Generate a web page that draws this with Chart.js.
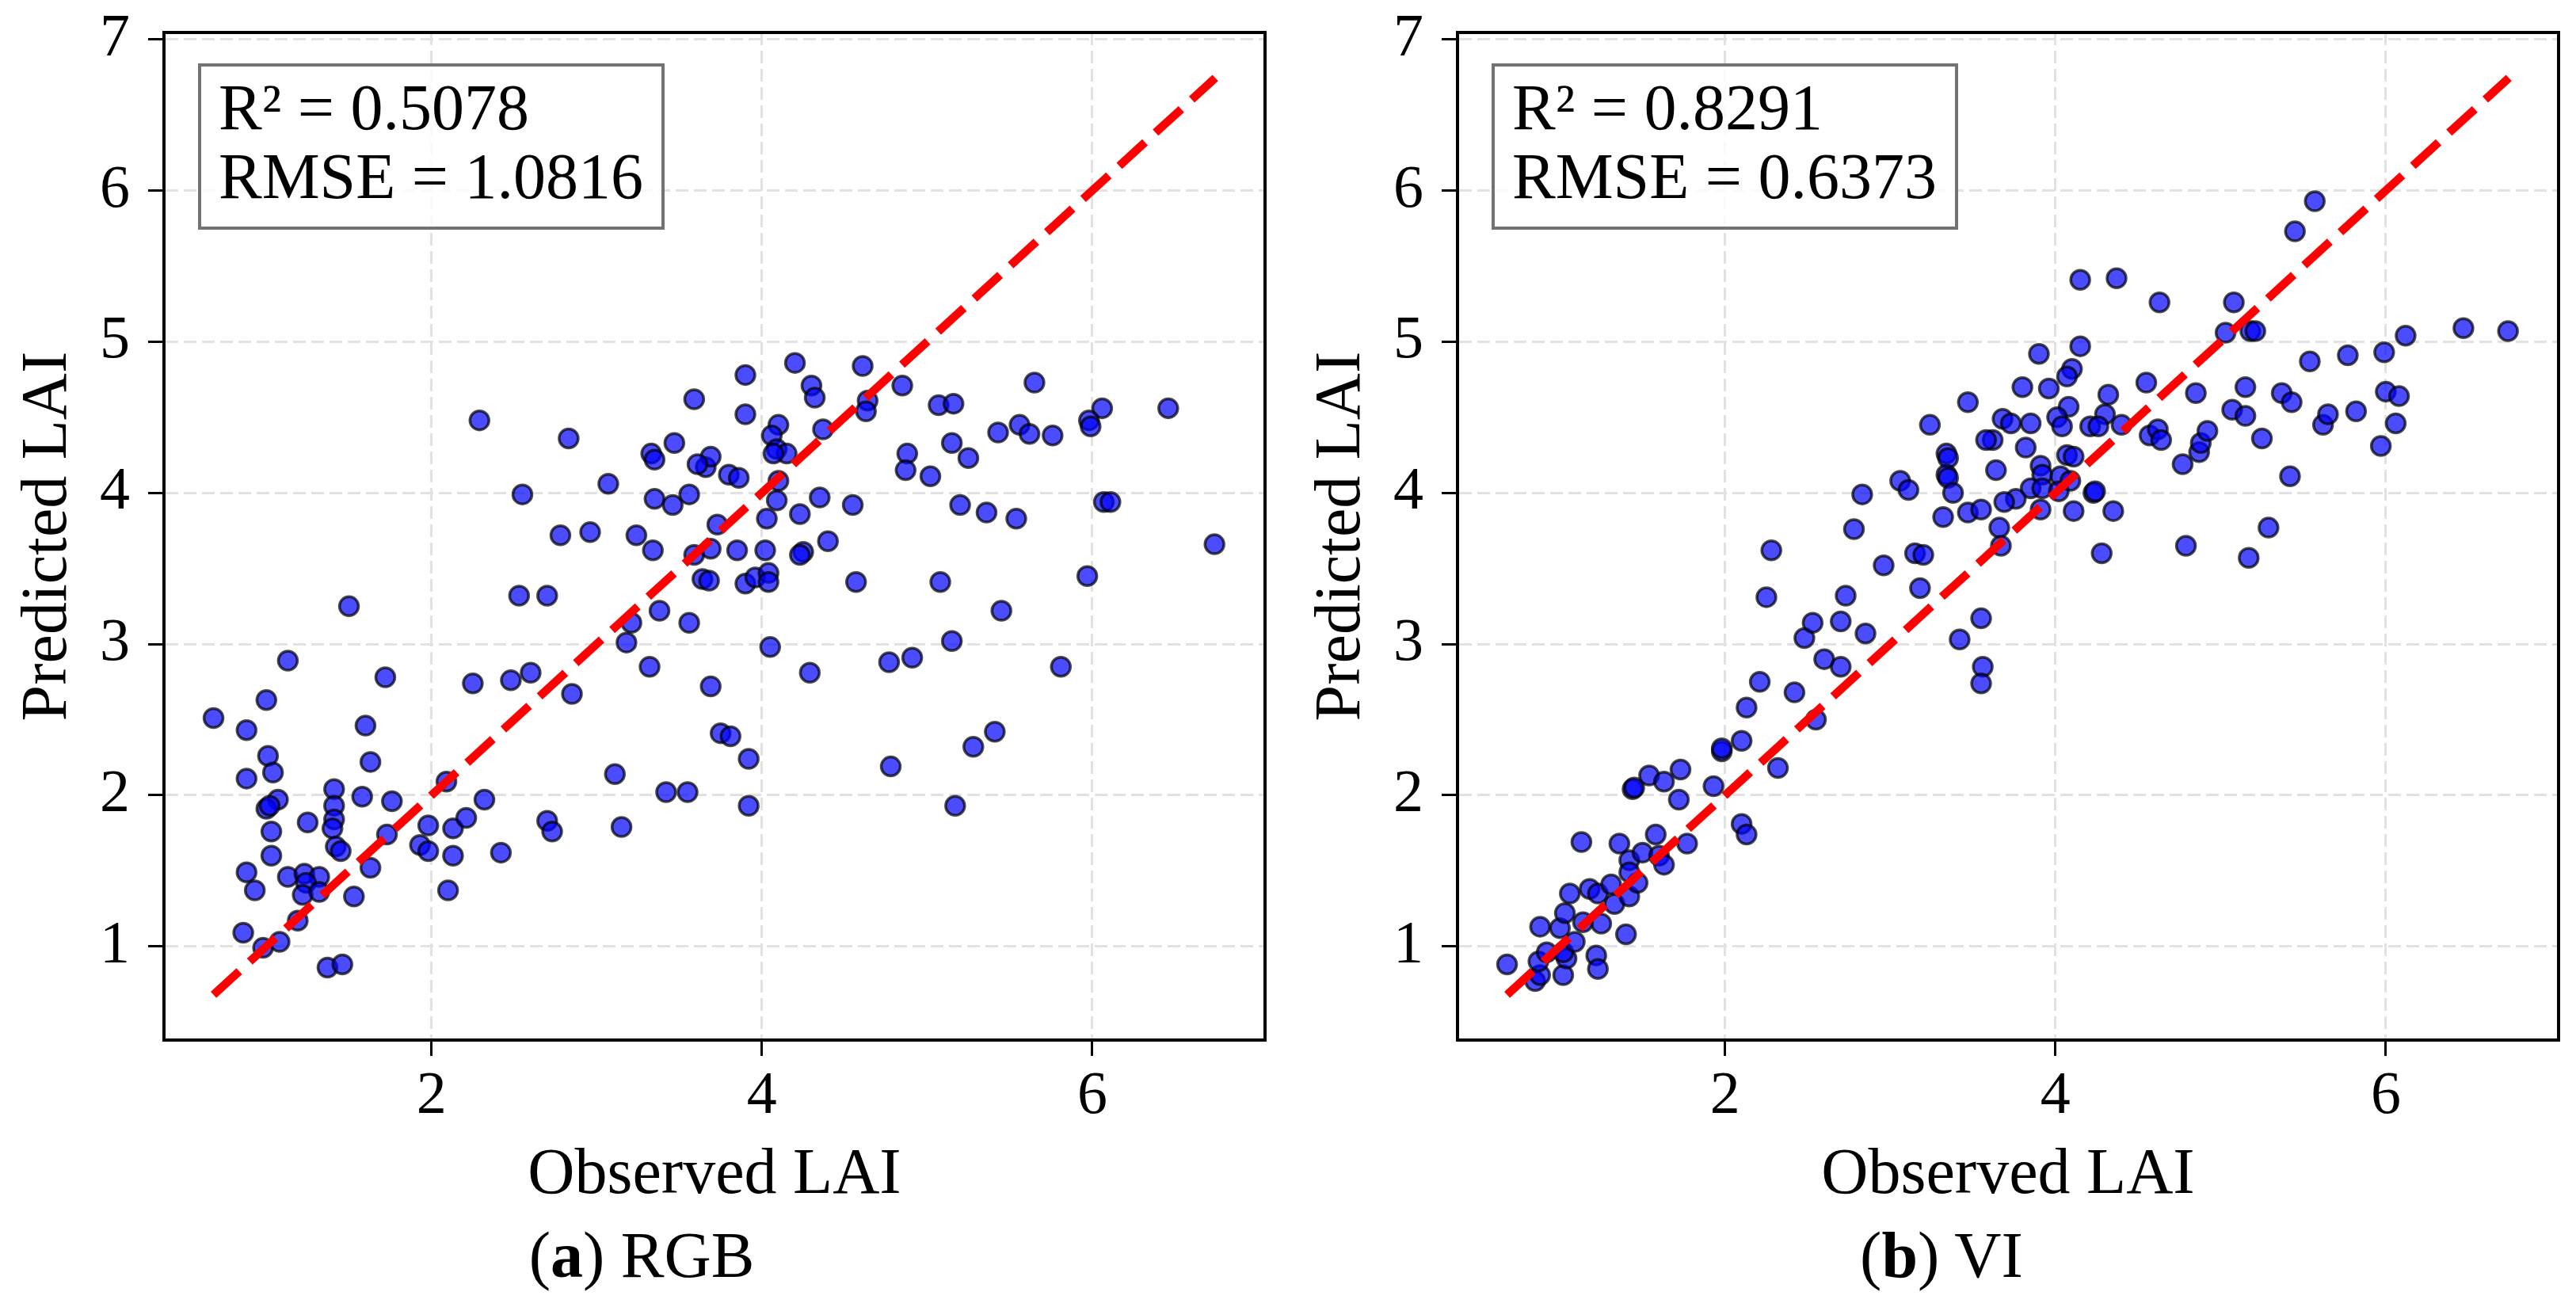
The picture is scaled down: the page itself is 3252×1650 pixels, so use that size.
<!DOCTYPE html>
<html>
<head>
<meta charset="utf-8">
<script src="https://cdn.jsdelivr.net/npm/chart.js@4.4.1/dist/chart.umd.min.js"></script>
<style>
  html, body { margin:0; padding:0; background:#fff; width:3252px; height:1650px; overflow:hidden; }
  .panel { position:absolute; top:0; width:1619px; height:1650px; }
  canvas { display:block; }
  .stats { position:absolute; box-sizing:border-box; width:589px; height:210px; top:80px;
           border:4px solid rgba(90,90,90,0.85); background:rgba(255,255,255,0.82);
           font-family:'Liberation Serif','Times New Roman',serif; font-size:82px; line-height:87px;
           padding:8px 0 0 22px; color:#000; white-space:nowrap; }
  .caption { position:absolute; top:1535px; width:600px; text-align:center;
             font-family:'Liberation Serif','Times New Roman',serif; font-size:82px; line-height:100px; color:#000; white-space:nowrap; }
</style>
</head>
<body>
<div class="panel" style="left:0px"><canvas id="rgb" width="1619" height="1650"></canvas></div>
<div class="panel" style="left:1633px"><canvas id="vi" width="1619" height="1650"></canvas></div>
<div class="stats" id="statsRgb" style="left:250px"></div>
<div class="stats" id="statsVi" style="left:1883px"></div>
<div class="caption" style="left:510px">(<b>a</b>) RGB</div>
<div class="caption" style="left:2151px">(<b>b</b>) VI</div>
<script>
// ---- data (observed LAI, predicted LAI) ----
const rgbPoints = [
  [1.50,3.25],[1.13,2.89],[1.72,2.78],[1.00,2.63],[0.68,2.51],[0.88,2.43],[1.60,2.46],[1.01,2.26],[1.04,2.15],[0.88,2.11],
  [1.63,2.22],[1.41,2.04],[1.58,1.99],[1.76,1.96],[1.07,1.97],[1.00,1.91],[1.02,1.93],[1.41,1.93],[1.41,1.84],[1.40,1.78],
  [1.25,1.82],[1.03,1.76],[1.42,1.66],[1.45,1.63],[1.73,1.74],[1.03,1.60],[0.88,1.49],[0.93,1.37],[1.13,1.46],[1.23,1.48],
  [1.32,1.46],[1.24,1.42],[1.22,1.34],[1.32,1.36],[1.63,1.52],[1.53,1.33],[1.19,1.17],[0.86,1.09],[0.98,0.99],[1.08,1.03],
  [1.37,0.86],[1.46,0.88],[2.09,2.09],[1.98,1.80],[1.93,1.67],[1.98,1.63],[2.13,1.78],[2.21,1.85],[2.32,1.97],[2.13,1.60],
  [2.10,1.37],[2.42,1.62],[2.25,2.74],[2.48,2.76],[2.60,2.81],[2.85,2.67],[2.53,3.32],[2.70,3.32],[2.78,3.72],[2.96,3.74],
  [3.24,3.72],[3.34,3.62],[3.38,3.22],[3.21,3.14],[3.18,3.01],[3.32,2.85],[3.56,3.14],[3.11,2.14],[3.42,2.02],[3.55,2.02],
  [3.15,1.79],[2.70,1.83],[2.73,1.76],[3.59,3.59],
  [3.73,3.79],[3.69,3.63],[3.64,3.43],[3.68,3.42],[3.85,3.62],[4.02,3.62],[4.03,3.83],[4.23,3.86],[4.25,3.61],[4.23,3.59],
  [4.40,3.68],[3.90,3.40],[3.96,3.44],[4.04,3.47],[4.04,3.41],[4.57,3.41],[5.08,3.41],[5.45,3.22],[5.97,3.45],[6.74,3.66],
  [3.69,2.72],[4.05,2.98],[4.29,2.81],[4.77,2.88],[4.91,2.91],[5.15,3.02],[5.81,2.85],[3.75,2.41],[3.81,2.39],[3.92,2.24],
  [3.92,1.93],[4.78,2.19],[5.28,2.32],[5.41,2.42],[5.17,1.93],
  [3.90,4.78],[3.90,4.52],[4.20,4.86],[4.30,4.71],[4.32,4.63],[4.61,4.84],[4.64,4.61],[4.63,4.54],[4.85,4.71],[5.07,4.58],
  [5.16,4.59],[5.65,4.73],[6.06,4.56],[5.98,4.48],[5.99,4.44],[6.46,4.56],[4.10,4.45],[4.06,4.38],[4.09,4.29],[4.15,4.26],
  [4.07,4.26],[4.37,4.42],[4.88,4.26],[4.87,4.15],[5.02,4.11],[5.15,4.33],[5.25,4.23],[5.43,4.40],[5.56,4.45],[5.62,4.39],
  [5.76,4.38],[6.07,3.94],[6.11,3.94],[5.20,3.92],[5.36,3.87],[5.54,3.83],[4.55,3.92],[4.35,3.97],[4.09,3.95],[4.10,4.08],
  [3.66,4.17],[3.69,4.24],[3.80,4.12],[3.86,4.10],
  [2.29,4.48],[2.83,4.36],[3.59,4.62],[3.47,4.33],[3.33,4.26],[3.35,4.22],[3.61,4.19],[3.07,4.06],[2.55,3.99],[3.35,3.96],
  [3.46,3.92],[3.56,3.99]
];
const viPoints = [
  [0.68,0.88],[0.85,0.77],[0.88,0.81],[0.87,0.90],[0.92,0.96],[1.02,0.81],[1.04,0.92],[1.02,0.96],[1.09,1.03],[1.00,1.12],
  [1.03,1.22],[0.88,1.13],[1.06,1.35],[1.14,1.16],[1.25,1.15],[1.22,0.94],[1.23,0.85],[1.18,1.38],[1.23,1.35],[1.31,1.41],
  [1.33,1.28],[1.40,1.08],[1.42,1.33],[1.47,1.42],[1.42,1.57],[1.42,1.49],[1.13,1.69],[1.36,1.68],[1.50,1.62],[1.58,1.74],
  [1.60,1.60],[1.63,1.54],[1.77,1.68],[1.44,2.04],[1.45,2.05],[1.54,2.13],[1.63,2.09],[1.73,2.17],[1.72,1.97],[1.93,2.06],
  [1.98,2.29],[1.98,2.31],[2.10,2.36],[2.10,1.81],[2.13,1.74],[2.32,2.18],[2.13,2.58],[2.21,2.75],[2.42,2.68],[2.55,2.50],
  [2.60,2.90],[2.70,2.85],[2.48,3.04],[2.53,3.14],[2.70,3.15],[2.85,3.07],[2.25,3.31],[2.28,3.62],[2.73,3.32],[2.78,3.76],
  [2.96,3.52],[3.15,3.60],[3.20,3.59],[3.18,3.37],[3.42,3.03],[3.55,3.17],[3.56,2.85],[3.55,2.74],[3.32,3.84],[3.47,3.87],
  [3.55,3.89],
  [5.57,5.93],[5.45,5.73],[4.15,5.41],[4.37,5.42],[4.63,5.26],[5.08,5.26],[5.03,5.06],[5.18,5.07],[5.21,5.07],[6.12,5.04],
  [6.47,5.09],[6.74,5.07],[3.90,4.92],[4.15,4.97],[4.10,4.82],[4.07,4.77],[3.80,4.70],[3.96,4.69],[4.32,4.65],[4.55,4.73],
  [4.85,4.66],[5.15,4.70],[5.54,4.87],[5.77,4.91],[5.99,4.93],[5.37,4.66],[5.43,4.60],[5.07,4.55],[5.15,4.51],[5.25,4.36],
  [5.62,4.45],[5.65,4.52],[5.82,4.54],[6.00,4.67],[6.08,4.64],[6.06,4.46],[5.97,4.31],[5.42,4.11],[5.29,3.77],[4.79,3.65],
  [4.77,4.19],[4.87,4.27],[4.88,4.33],[4.92,4.41],[4.57,4.38],[4.62,4.42],[4.64,4.35],[4.40,4.45],[4.30,4.52],[4.21,4.44],
  [4.26,4.44],[4.08,4.57],[4.01,4.50],[4.04,4.44],[3.85,4.46],[3.68,4.49],[3.73,4.46],[3.62,4.35],[3.82,4.30],[3.64,4.15],
  [4.07,4.25],[4.11,4.24],[3.91,4.18],[3.92,4.12],[4.03,4.11],[4.09,4.08],[3.85,4.03],[3.92,4.03],[4.02,4.01],[4.23,4.00],
  [4.24,4.01],[3.76,3.96],[3.69,3.94],[3.91,3.89],[4.11,3.88],[4.35,3.88],[3.66,3.77],
  [3.67,3.65],[4.28,3.60],[5.17,3.57],
  [3.47,4.60],[3.24,4.45],[3.58,4.35],[3.34,4.26],[3.35,4.23],[3.34,4.12],[3.35,4.10],[3.06,4.08],[3.11,4.02],[2.83,3.99],
  [3.38,4.00]
];
const identityLine = [0.68, 6.745];        // 1:1 reference line, from min to max
const axisRange = [0.38, 7.046];
const xTicks = [2, 4, 6];
const yTicks = [1, 2, 3, 4, 5, 6, 7];
const xTitle = 'Observed LAI';
const yTitle = 'Predicted LAI';
const statsRgb = ['R\u00B2 = 0.5078', 'RMSE = 1.0816'];
const statsVi  = ['R\u00B2 = 0.8291', 'RMSE = 0.6373'];

document.getElementById('statsRgb').innerHTML = statsRgb.join('<br>');
document.getElementById('statsVi').innerHTML = statsVi.join('<br>');

const FONT = "'Liberation Serif','Times New Roman',serif";

const framePlugin = {
  id: 'frame',
  afterDatasetsDraw(chart) {
    const {ctx, chartArea: a} = chart;
    ctx.save();
    ctx.strokeStyle = '#000';
    ctx.lineWidth = 4;
    ctx.strokeRect(a.left, a.top, a.right - a.left, a.bottom - a.top);
    ctx.restore();
  }
};

function makeChart(id, points) {
  const gridCommon = {
    color: '#e2e2e2', lineWidth: 3,
    drawTicks: true, tickLength: 20, tickWidth: 3, tickColor: '#000', tickBorderDash: []
  };
  const borderCommon = { display: true, color: '#000', width: 4, dash: [16, 7] };
  new Chart(document.getElementById(id), {
    type: 'scatter',
    data: {
      datasets: [
        {
          type: 'scatter',
          data: identityLine.map(v => ({x: v, y: v})),
          showLine: true,
          borderColor: '#ff0000',
          borderWidth: 10.5,
          borderDash: [44, 18],
          borderCapStyle: 'butt',
          pointRadius: 0,
          fill: false,
          order: 0
        },
        {
          type: 'scatter',
          data: points.map(p => ({x: p[0], y: p[1]})),
          pointRadius: 12,
          pointBorderWidth: 3.5,
          pointBackgroundColor: 'rgba(0,0,255,0.7)',
          pointBorderColor: 'rgba(0,0,0,0.7)',
          order: 1
        }
      ]
    },
    options: {
      responsive: false,
      devicePixelRatio: 1,
      animation: false,
      events: [],
      layout: { padding: { top: 41, right: 22, left: 0, bottom: 0 } },
      plugins: { legend: { display: false }, tooltip: { enabled: false }, title: { display: false } },
      scales: {
        x: {
          type: 'linear', position: 'bottom',
          min: axisRange[0], max: axisRange[1],
          afterBuildTicks: axis => { axis.ticks = xTicks.map(v => ({value: v})); },
          afterFit: axis => { axis.height = 337; axis.paddingLeft = 0; axis.paddingRight = 0; },
          ticks: { autoSkip: false, maxRotation: 0, minRotation: 0, padding: 6, color: '#000',
                   font: { family: FONT, size: 76 }, callback: v => String(v) },
          grid: gridCommon,
          border: borderCommon,
          title: { display: true, text: xTitle, color: '#000', font: { family: FONT, size: 82 },
                   padding: { top: 0, bottom: 116 } }
        },
        y: {
          type: 'linear', position: 'left',
          min: axisRange[0], max: axisRange[1],
          afterBuildTicks: axis => { axis.ticks = yTicks.map(v => ({value: v})); },
          afterFit: axis => { axis.width = 207; axis.paddingTop = 0; axis.paddingBottom = 0; },
          ticks: { autoSkip: false, padding: 23, color: '#000',
                   font: { family: FONT, size: 76 }, callback: v => String(v) },
          grid: gridCommon,
          border: borderCommon,
          title: { display: true, text: yTitle, color: '#000', font: { family: FONT, size: 82 },
                   padding: { top: 12, bottom: 0 } }
        }
      }
    },
    plugins: [framePlugin]
  });
}

makeChart('rgb', rgbPoints);
makeChart('vi', viPoints);
</script>
</body>
</html>
